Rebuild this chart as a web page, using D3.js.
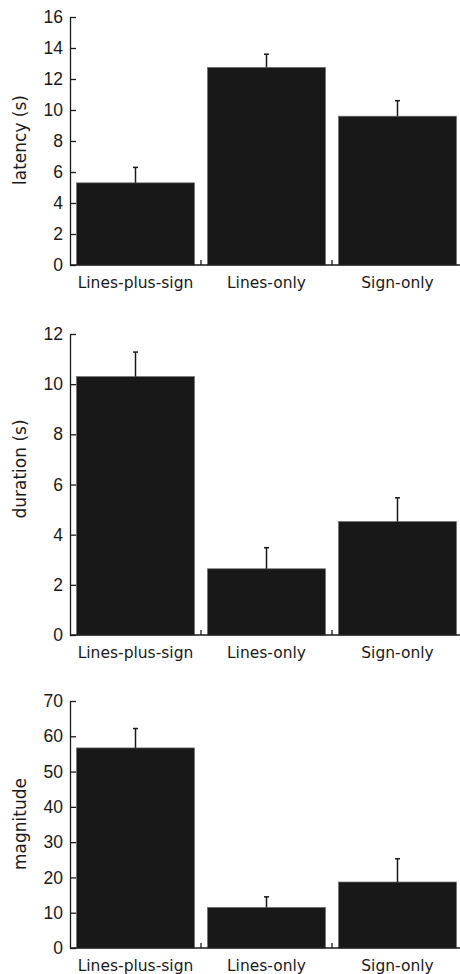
<!DOCTYPE html>
<html><head><meta charset="utf-8">
<script src="https://cdn.jsdelivr.net/npm/d3@7"></script>
<style>html,body{margin:0;padding:0;background:#fff}</style>
</head><body>
<svg id="c" width="460" height="974"></svg>
<script>
const categories = ["Lines-plus-sign", "Lines-only", "Sign-only"];
const latencyMean = [5.3, 12.75, 9.6];
const latencyErr = [1.0, 0.85, 1.0];
const durationMean = [10.3, 2.64, 4.52];
const durationErr = [0.98, 0.84, 0.95];
const magnitudeMean = [56.7, 11.5, 18.7];
const magnitudeErr = [5.5, 3.0, 6.6];
const latencyTicks = [0, 2, 4, 6, 8, 10, 12, 14, 16];
const durationTicks = [0, 2, 4, 6, 8, 10, 12];
const magnitudeTicks = [0, 10, 20, 30, 40, 50, 60, 70];
const titles = ["latency (s)", "duration (s)", "magnitude"];

const panels = [
  {title: titles[0], mean: latencyMean, err: latencyErr, ticks: latencyTicks, top: 17, bottom: 265, titleY: 140},
  {title: titles[1], mean: durationMean, err: durationErr, ticks: durationTicks, top: 334, bottom: 635, titleY: 469},
  {title: titles[2], mean: magnitudeMean, err: magnitudeErr, ticks: magnitudeTicks, top: 701, bottom: 948, titleY: 824}
];

const svg = d3.select("#c");
const ink = "#1a1a1a";
const x0 = 70, x1 = 463;

panels.forEach(p => {
  const g = svg.append("g");
  const x = d3.scaleBand().domain(categories).range([x0, x1]).paddingInner(0.1).paddingOuter(0.05);
  const y = d3.scaleLinear().domain([0, d3.max(p.ticks)]).range([p.bottom, p.top]);
  const data = categories.map((c, i) => ({c, m: p.mean[i], e: p.err[i]}));

  // bars
  g.selectAll("rect.bar").data(data).join("rect")
    .attr("x", d => x(d.c)).attr("width", x.bandwidth())
    .attr("y", d => y(d.m)).attr("height", d => y(0) - y(d.m))
    .attr("fill", "#181818").attr("stroke", "#6a6a6a").attr("stroke-width", 0.7);

  // error bars
  g.selectAll("line.eb").data(data).join("line")
    .attr("x1", d => x(d.c) + x.bandwidth() / 2).attr("x2", d => x(d.c) + x.bandwidth() / 2)
    .attr("y1", d => y(d.m)).attr("y2", d => y(d.m + d.e))
    .attr("stroke", ink).attr("stroke-width", 1.5);
  g.selectAll("line.cap").data(data).join("line")
    .attr("x1", d => x(d.c) + x.bandwidth() / 2 - 2.5).attr("x2", d => x(d.c) + x.bandwidth() / 2 + 2.5)
    .attr("y1", d => y(d.m + d.e)).attr("y2", d => y(d.m + d.e))
    .attr("stroke", ink).attr("stroke-width", 1.5);

  // y axis
  const ya = g.append("g").attr("transform", `translate(${x0},0)`)
    .call(d3.axisLeft(y).tickValues(p.ticks).tickSizeInner(-6).tickSizeOuter(0).tickPadding(7).tickFormat(d3.format("d")));
  ya.select(".domain").attr("stroke", ink).attr("stroke-width", 1.3);
  ya.selectAll(".tick line").attr("stroke", ink).attr("stroke-width", 1.3);
  ya.selectAll(".tick text").attr("fill", ink).style("font-family", "'Liberation Sans', Arial, sans-serif").style("font-size", "17.5px");

  // x axis line
  g.append("line").attr("x1", x0).attr("x2", x1).attr("y1", y(0)).attr("y2", y(0))
    .attr("stroke", ink).attr("stroke-width", 1.3);
  // boundary ticks
  const gap = x.step() - x.bandwidth();
  g.selectAll("line.bt").data(categories).join("line")
    .attr("x1", c => x(c) + x.bandwidth() + gap / 2).attr("x2", c => x(c) + x.bandwidth() + gap / 2)
    .attr("y1", y(0)).attr("y2", y(0) - 5)
    .attr("stroke", ink).attr("stroke-width", 1.3);
  // category labels
  g.selectAll("text.cat").data(categories).join("text")
    .attr("x", c => x(c) + x.bandwidth() / 2).attr("y", y(0) + 23)
    .attr("text-anchor", "middle").attr("fill", ink)
    .style("font-family", "'DejaVu Sans', sans-serif").style("font-size", "15.5px")
    .text(c => c);

  // y title
  g.append("text").attr("transform", `translate(26,${p.titleY}) rotate(-90)`)
    .attr("text-anchor", "middle").attr("fill", ink)
    .style("font-family", "'DejaVu Sans', sans-serif").style("font-size", "17px")
    .text(p.title);
});
</script>
</body></html>
